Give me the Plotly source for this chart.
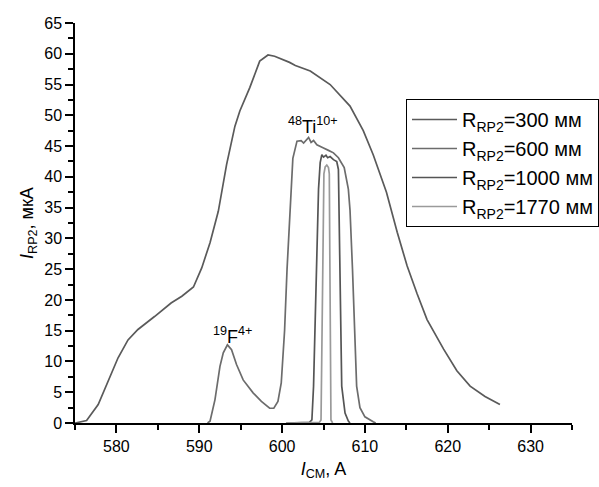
import plotly.graph_objects as go

# R_RP2 = 300 mm (wide curve)
x300 = [575.0, 576.4, 577.8, 579.0, 580.2, 581.4, 582.6, 584.6, 586.6, 587.9, 589.3, 590.3,
        591.3, 592.3, 593.3, 594.3, 594.9, 596.1, 597.3, 598.3, 599.1, 600.9, 601.6, 603.4,
        605.8, 608.2, 609.8, 611.0, 612.6, 613.9, 615.1, 616.3, 617.5, 619.5, 621.1, 622.7,
        624.5, 626.3]
y300 = [0.0, 0.4, 3.0, 6.8, 10.6, 13.5, 15.2, 17.3, 19.5, 20.6, 22.1, 25.2,
        29.3, 34.4, 42.0, 48.2, 50.7, 54.5, 58.8, 59.8, 59.6, 58.6, 58.1, 57.2,
        55.0, 51.5, 47.5, 43.6, 37.5, 31.0, 25.5, 21.0, 16.8, 12.0, 8.5, 6.0,
        4.3, 3.0]

# R_RP2 = 600 mm (F peak + Ti peak)
x600 = [591.0, 591.3, 591.9, 592.5, 592.9, 593.4, 593.9, 594.5, 595.3, 596.5, 597.5, 598.5,
        599.0, 599.5, 599.9, 600.3, 600.6, 601.0, 601.3, 601.8, 602.3, 602.6, 602.9, 603.2,
        603.5, 603.8, 604.2, 604.6, 605.0, 605.6, 606.2, 606.8, 607.2, 607.5, 608.0, 608.2,
        608.5, 608.8, 609.0, 609.4, 610.0, 611.0, 611.3]
y600 = [0.0, 0.3, 3.8, 9.2, 11.4, 12.7, 11.9, 9.5, 7.0, 4.9, 3.5, 2.4,
        2.4, 3.5, 6.5, 15.0, 25.0, 35.0, 43.0, 45.8, 45.9, 45.5, 46.0, 46.4,
        45.6, 45.9, 45.2, 45.0, 44.7, 44.3, 43.9, 43.1, 42.2, 41.5, 38.0, 34.6,
        25.0, 15.2, 6.0, 2.5, 1.0, 0.2, 0.0]

# R_RP2 = 1000 mm
x1000 = [600.5, 603.3, 603.6, 603.8, 604.0, 604.2, 604.4, 604.6, 604.8, 605.0, 605.3, 605.5,
         605.8, 606.2, 606.6, 606.8, 606.9, 607.1, 607.2, 607.6, 608.0, 608.2]
y1000 = [0.0, 0.1, 0.5, 6.0, 16.8, 28.0, 38.0, 42.3, 43.6, 43.2, 43.5, 43.1,
         43.3, 42.8, 42.5, 41.2, 30.0, 16.8, 6.0, 1.6, 0.3, 0.0]

# R_RP2 = 1770 mm
x1770 = [600.5, 604.5, 604.7, 604.8, 604.9, 605.05, 605.2, 605.4, 605.6, 605.7, 605.75, 605.8,
         605.9, 606.1]
y1770 = [0.0, 0.1, 0.5, 15.0, 30.0, 40.5, 41.6, 41.9, 41.5, 40.5, 30.0, 15.0,
         0.5, 0.0]

names = ["R<sub>RP2</sub>=300 мм", "R<sub>RP2</sub>=600 мм",
         "R<sub>RP2</sub>=1000 мм", "R<sub>RP2</sub>=1770 мм"]
colors = ["#5a5a5a", "#6c6c6c", "#555555", "#9a9a9a"]

x_ticks = [580, 590, 600, 610, 620, 630]
y_ticks = list(range(0, 66, 5))

fig = go.Figure()
for i, (xs, ys) in enumerate([(x300, y300), (x600, y600), (x1000, y1000), (x1770, y1770)]):
    fig.add_trace(go.Scatter(x=xs, y=ys, mode="lines", name=names[i],
                             line=dict(color=colors[i], width=1.7),
                             legendgroup=str(i)))

fig.add_annotation(x=603.7, y=48.4, text="<sup>48</sup>Ti<sup>10+</sup>", showarrow=False,
                   font=dict(size=18, color="black", family="Liberation Sans, Arial"),
                   xanchor="center", yanchor="middle")
fig.add_annotation(x=594.0, y=14.3, text="<sup>19</sup>F<sup>4+</sup>", showarrow=False,
                   font=dict(size=18, color="black", family="Liberation Sans, Arial"),
                   xanchor="center", yanchor="middle")

axis_common = dict(showline=True, linecolor="black", linewidth=1.5, ticks="outside",
                   ticklen=8, tickwidth=1.5, tickcolor="black", showgrid=False,
                   zeroline=False, tickfont=dict(size=16, color="black"),
                   title_font=dict(size=18, color="black"))

fig.update_xaxes(range=[575, 635], tickvals=x_ticks, ticktext=[str(v) for v in x_ticks],
                 minor=dict(ticks="outside", ticklen=5, tickwidth=1.5, tickcolor="black", dtick=5, tick0=575),
                 title=dict(text="<i>I</i><sub>CM</sub>, A", standoff=8),
                 **axis_common)
fig.update_yaxes(range=[0, 65], tickvals=y_ticks, ticktext=[str(v) for v in y_ticks],
                 minor=dict(ticks="outside", ticklen=5, tickwidth=1.5, tickcolor="black", dtick=2.5, tick0=0),
                 title=dict(text="<i>I</i><sub>RP2</sub>, мкА", standoff=6),
                 **axis_common)

fig.update_layout(
    width=599, height=487,
    margin=dict(l=75, r=27, t=23, b=64, autoexpand=False),
    paper_bgcolor="white", plot_bgcolor="white",
    font=dict(family="Liberation Sans, Arial", color="black"),
    legend=dict(x=0.666, y=0.81, xanchor="left", yanchor="top",
                bordercolor="black", borderwidth=1, bgcolor="white",
                font=dict(size=20, color="black"), itemwidth=45, tracegroupgap=0),
    showlegend=True,
)

fig.write_html("out.html")
